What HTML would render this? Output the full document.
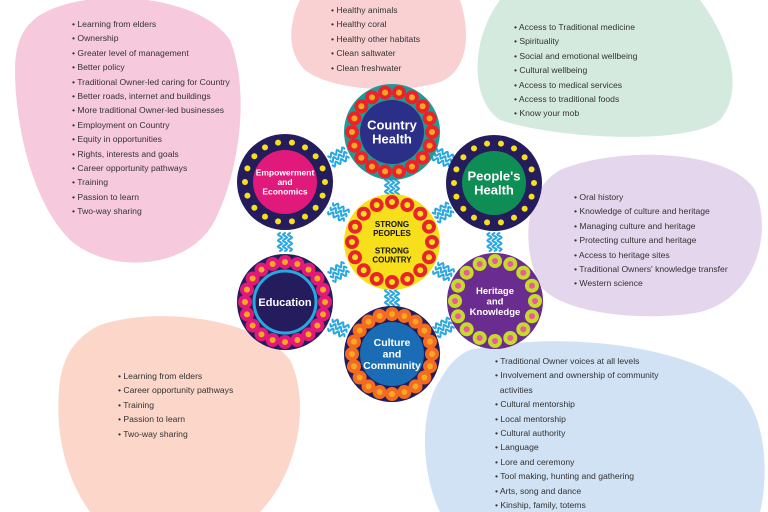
<!DOCTYPE html>
<html><head><meta charset="utf-8"><style>
body{margin:0;width:768px;height:512px;overflow:hidden;background:#fff;font-family:"Liberation Sans",sans-serif}
.t{position:absolute;font-size:8.6px;color:#333;line-height:14.4px;margin:0;padding:0;list-style:none}
.t li:before{content:"• ";}
</style></head><body>
<svg width="768" height="512" style="position:absolute;left:0;top:0" id="s">
<path d="M40,15 C90,-15 200,-5 230,40 C250,90 240,170 215,220 C190,270 110,275 70,240 C30,200 15,120 15,70 C15,40 25,25 40,15Z" fill="#f7c9dc"/>
<path d="M300,0 L460,0 C470,30 470,70 440,82 C400,95 330,90 305,70 C285,50 290,20 300,0Z" fill="#f9d1d3"/>
<path d="M500,0 L700,0 C730,40 745,90 720,120 C690,145 560,140 500,120 C470,100 470,40 500,0Z" fill="#d5eadf"/>
<path d="M560,170 C620,145 730,150 755,190 C775,240 750,300 700,312 C650,322 560,315 540,285 C520,245 525,190 560,170Z" fill="#e4d6ec"/>
<path d="M100,325 C160,305 260,320 290,360 C310,400 300,470 260,512 L90,512 C60,470 55,420 60,380 C65,350 80,335 100,325Z" fill="#fbd6c9"/>
<path d="M470,350 C560,330 690,345 740,390 C768,420 768,480 760,512 L440,512 C420,470 420,410 440,380 C450,362 460,354 470,350Z" fill="#d0e2f3"/>
<g id="waves" stroke="#29a8e0" stroke-width="2" fill="none" stroke-linecap="round"></g>
<g id="nodes"></g>
</svg>
<ul class="t" style="left:72px;top:17px">
<li>Learning from elders</li><li>Ownership</li><li>Greater level of management</li><li>Better policy</li><li>Traditional Owner-led caring for Country</li><li>Better roads, internet and buildings</li><li>More traditional Owner-led businesses</li><li>Employment on Country</li><li>Equity in opportunities</li><li>Rights, interests and goals</li><li>Career opportunity pathways</li><li>Training</li><li>Passion to learn</li><li>Two-way sharing</li></ul>
<ul class="t" style="left:331px;top:3px"><li>Healthy animals</li><li>Healthy coral</li><li>Healthy other habitats</li><li>Clean saltwater</li><li>Clean freshwater</li></ul>
<ul class="t" style="left:514px;top:20px"><li>Access to Traditional medicine</li><li>Spirituality</li><li>Social and emotional wellbeing</li><li>Cultural wellbeing</li><li>Access to medical services</li><li>Access to traditional foods</li><li>Know your mob</li></ul>
<ul class="t" style="left:574px;top:190px"><li>Oral history</li><li>Knowledge of culture and heritage</li><li>Managing culture and heritage</li><li>Protecting culture and heritage</li><li>Access to heritage sites</li><li>Traditional Owners' knowledge transfer</li><li>Western science</li></ul>
<ul class="t" style="left:118px;top:369px"><li>Learning from elders</li><li>Career opportunity pathways</li><li>Training</li><li>Passion to learn</li><li>Two-way sharing</li></ul>
<ul class="t" style="left:495px;top:354px;width:200px"><li>Traditional Owner voices at all levels</li><li>Involvement and ownership of community<br>&nbsp;&nbsp;activities</li><li>Cultural mentorship</li><li>Local mentorship</li><li>Cultural authority</li><li>Language</li><li>Lore and ceremony</li><li>Tool making, hunting and gathering</li><li>Arts, song and dance</li><li>Kinship, family, totems</li></ul>
<script>
var N="http://www.w3.org/2000/svg",g=document.getElementById('nodes'),w=document.getElementById('waves');
function el(t,a,p){var e=document.createElementNS(N,t);for(var k in a)e.setAttribute(k,a[k]);(p||g).appendChild(e);return e;}
var C=[392,242],P=[[392,132],[285,182],[494,183],[285,302],[495,301],[392,354]];
var links=[[0,1],[0,2],[1,3],[2,4],[3,5],[4,5]];
function wave(a,b){var mx=(a[0]+b[0])/2,my=(a[1]+b[1])/2,dx=b[0]-a[0],dy=b[1]-a[1],L=Math.hypot(dx,dy),ux=dx/L,uy=dy/L,px=-uy,py=ux;
for(var i=-1;i<=1;i++){var d="";for(var j=0;j<=24;j++){var s=-9+j*0.75,o=i*5+2*Math.sin(j*Math.PI/4);var x=mx+ux*s+px*o,y=my+uy*s+py*o;d+=(j?"L":"M")+x.toFixed(1)+","+y.toFixed(1);}el('path',{d:d},w);}}
links.forEach(function(l){wave(P[l[0]],P[l[1]])});P.forEach(function(p){wave(C,p)});
function node(x,y,outer,inner,dot,dotin,n,txt,fs,tc){
el('circle',{cx:x,cy:y,r:48,fill:outer});
for(var i=0;i<n;i++){var a=i*2*Math.PI/n;el('circle',{cx:x+40*Math.cos(a),cy:y+40*Math.sin(a),r:7,fill:dot});el('circle',{cx:x+40*Math.cos(a),cy:y+40*Math.sin(a),r:3,fill:dotin});}
el('circle',{cx:x,cy:y,r:32,fill:inner});
txt.forEach(function(s,i){var t=el('text',{x:x,y:y+(i-(txt.length-1)/2)*fs*1.1+fs*0.35,'text-anchor':'middle','font-size':fs,'font-weight':'bold',fill:tc||'#fff','font-family':'Liberation Sans'});t.textContent=s;});}
node(392,132,'#1f9a9a','#2b2f87','#e8232a','#f7a823',18,['Country','Health'],13);
node(285,182,'#241c5c','#e0197a','#241c5c','#f7e01b',18,['Empowerment','and','Economics'],8.5);
node(494,183,'#241c5c','#0e8e55','#241c5c','#f7e01b',18,["People's",'Health'],13);
node(392,242,'#f7e01b','#f7e01b','#e8232a','#f7e01b',16,['STRONG','PEOPLES','','STRONG','COUNTRY'],8,'#111');
node(285,302,'#241c5c','#241c5c','#e0197a','#f7a823',20,['Education'],11);
node(495,301,'#6a2c8e','#6a2c8e','#c7d92c','#e85a9b',16,['Heritage','and','Knowledge'],9.5);
node(392,354,'#241c5c','#1a6db5','#f26b21','#f7a823',20,['Culture','and','Community'],10.5);
el('circle',{cx:285,cy:302,r:31,fill:'none',stroke:'#29a8e0','stroke-width':3});
</script>
</body></html>
